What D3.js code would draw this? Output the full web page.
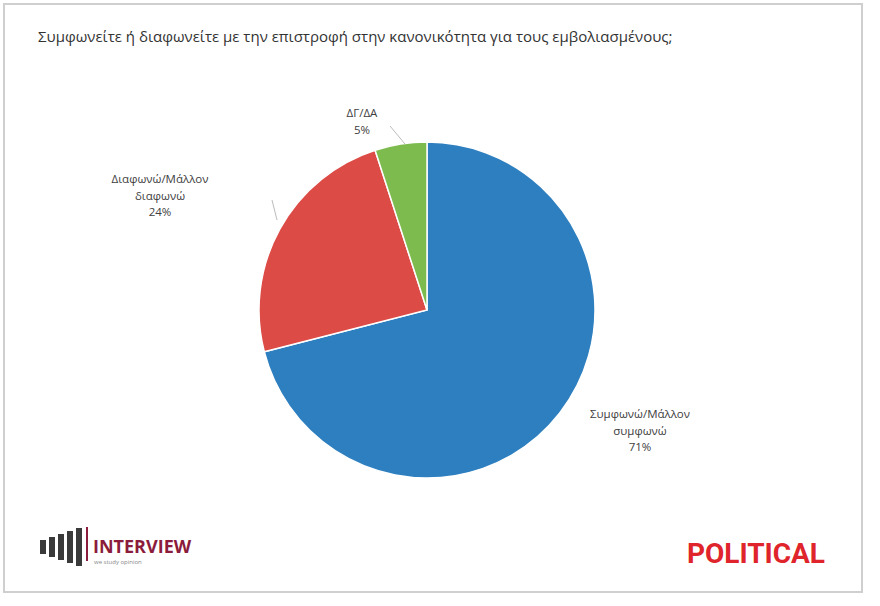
<!DOCTYPE html>
<html><head><meta charset="utf-8">
<script src="https://cdn.jsdelivr.net/npm/d3@7"></script>
<style>body{margin:0;background:#fff}</style></head>
<body><svg id="c" width="880" height="606"></svg>
<script>
const categories = ["Συμφωνώ/Μάλλον συμφωνώ", "Διαφωνώ/Μάλλον διαφωνώ", "ΔΓ/ΔΑ"];
const values = [71, 24, 5];
const colors = ["#2e7fbf", "#dc4b45", "#7dbb4e"];
const labelLines = [["Συμφωνώ/Μάλλον","συμφωνώ","71%"],["Διαφωνώ/Μάλλον","διαφωνώ","24%"],["ΔΓ/ΔΑ","5%"]];
const svg = d3.select("#c");
const font = "Open Sans, DejaVu Sans, sans-serif";
svg.append("rect").attr("x",4).attr("y",4).attr("width",858).attr("height",588).attr("fill","#fff").attr("stroke","#cfcfcf").attr("stroke-width",2);
svg.append("text").attr("x",38).attr("y",42).attr("font-family",font).attr("font-size",15).attr("fill","#333")
  .text("Συμφωνείτε ή διαφωνείτε με την επιστροφή στην κανονικότητα για τους εμβολιασμένους;");
const cx=427, cy=310, r=168;
const pie = d3.pie().sort(null)(values);
const arc = d3.arc().innerRadius(0).outerRadius(r);
const g = svg.append("g").attr("transform",`translate(${cx},${cy})`);
g.selectAll("path").data(pie).join("path").attr("d",arc).attr("fill",(d,i)=>colors[i]).attr("stroke","#fff").attr("stroke-width",1.5);
const pos = [[640,418],[160,183],[362,117]];
labelLines.forEach((ls,i)=>{
  ls.forEach((s,j)=>svg.append("text").attr("font-family",font).attr("font-size",11.5).attr("fill","#404040")
    .attr("text-anchor","middle").attr("x",pos[i][0]).attr("y",pos[i][1]+j*16.5).text(s));
});
svg.append("polyline").attr("points",`${cx-150},${cy-90} 272,200`).attr("fill","none").attr("stroke","#bbb");
svg.append("polyline").attr("points",`${cx-22},${cy-166} 390,126`).attr("fill","none").attr("stroke","#bbb");
const lg = svg.append("g");
[0,1,2,3,4].forEach(k=>lg.append("rect").attr("x",40+k*9).attr("y",540-k*3).attr("width",6).attr("height",14+k*6).attr("fill","#3a3a3a"));
lg.append("rect").attr("x",86).attr("y",527).attr("width",2).attr("height",34).attr("fill","#8b1c3b");
lg.append("text").attr("x",93).attr("y",553).attr("font-family",font).attr("font-weight","bold").attr("font-size",18).attr("fill","#8b1c3b").text("INTERVIEW");
lg.append("text").attr("x",94).attr("y",564).attr("font-family",font).attr("font-size",6).attr("fill","#888").text("we study opinion");
svg.append("text").attr("x",825).attr("y",563).attr("text-anchor","end").attr("font-family","Liberation Sans Narrow, Roboto, sans-serif").attr("font-weight","bold").attr("font-size",28).attr("fill","#e0242b").text("POLITICAL");
</script></body></html>
